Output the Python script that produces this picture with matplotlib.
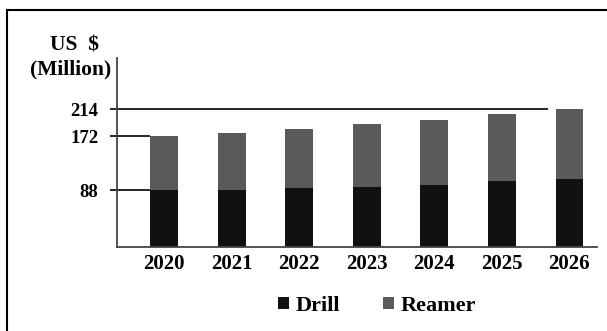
import matplotlib.pyplot as plt

years = ["2020", "2021", "2022", "2023", "2024", "2025", "2026"]
drill = [88, 89, 91, 93, 97, 102, 106]
reamer = [84, 89, 93, 99, 101, 105, 108]
tick_values = [88, 172, 214]

plt.rcParams['font.family'] = ['Liberation Serif', 'DejaVu Serif']
plt.rcParams['font.weight'] = 'bold'

fig = plt.figure(figsize=(6.07, 3.31), dpi=100)
ax = fig.add_axes([0.1928, 0.2538, 0.7908, 0.571])

x = list(range(len(years)))
w = 0.41
b1 = ax.bar(x, drill, width=w, color='#111111', label='Drill')
b2 = ax.bar(x, reamer, width=w, bottom=drill, color='#5a5a5a', label='Reamer')

ax.set_xlim(-0.70, 6.41)
ax.set_ylim(0, 294)

for s in ['top', 'right']:
    ax.spines[s].set_visible(False)
for s in ['left', 'bottom']:
    ax.spines[s].set_color('#444444')
    ax.spines[s].set_linewidth(1.3)

ax.set_xticks(x)
ax.set_xticklabels(years, fontsize=15, fontweight='bold')
ax.tick_params(axis='x', length=0, pad=5)
ax.set_yticks(tick_values)
ax.set_yticklabels([str(v) for v in tick_values], fontsize=13.5, fontweight='bold')
ax.tick_params(axis='y', length=5, width=1.2, color='black', pad=8.5)

# leader lines from the axis to the bars
left_edge = x[0] - w / 2
ax.hlines([tick_values[0], tick_values[1]], -0.70, left_edge, color='black', lw=1.2, zorder=1)
ax.hlines(tick_values[2], -0.70, 5.68, color='black', lw=1.2, zorder=1)

fig.text(0.122, 0.864, "US  $", ha='center', va='center', fontsize=15.5, fontweight='bold')
fig.text(0.117, 0.789, "(Million)", ha='center', va='center', fontsize=15.5, fontweight='bold')

fig.legend(handles=[b1, b2], loc='center', bbox_to_anchor=(0.621, 0.0755), ncol=2,
           frameon=False, fontsize=16, handlelength=0.5, handleheight=0.5,
           handletextpad=0.32, columnspacing=1.9, borderpad=0)

# outer frame (top and left edges visible)
fig.add_artist(plt.Line2D([0.012, 1.0], [0.97, 0.97], color='black', lw=1.5, transform=fig.transFigure))
fig.add_artist(plt.Line2D([0.012, 0.012], [0.0, 0.97], color='black', lw=1.5, transform=fig.transFigure))

fig.savefig("out.png", dpi=100)
